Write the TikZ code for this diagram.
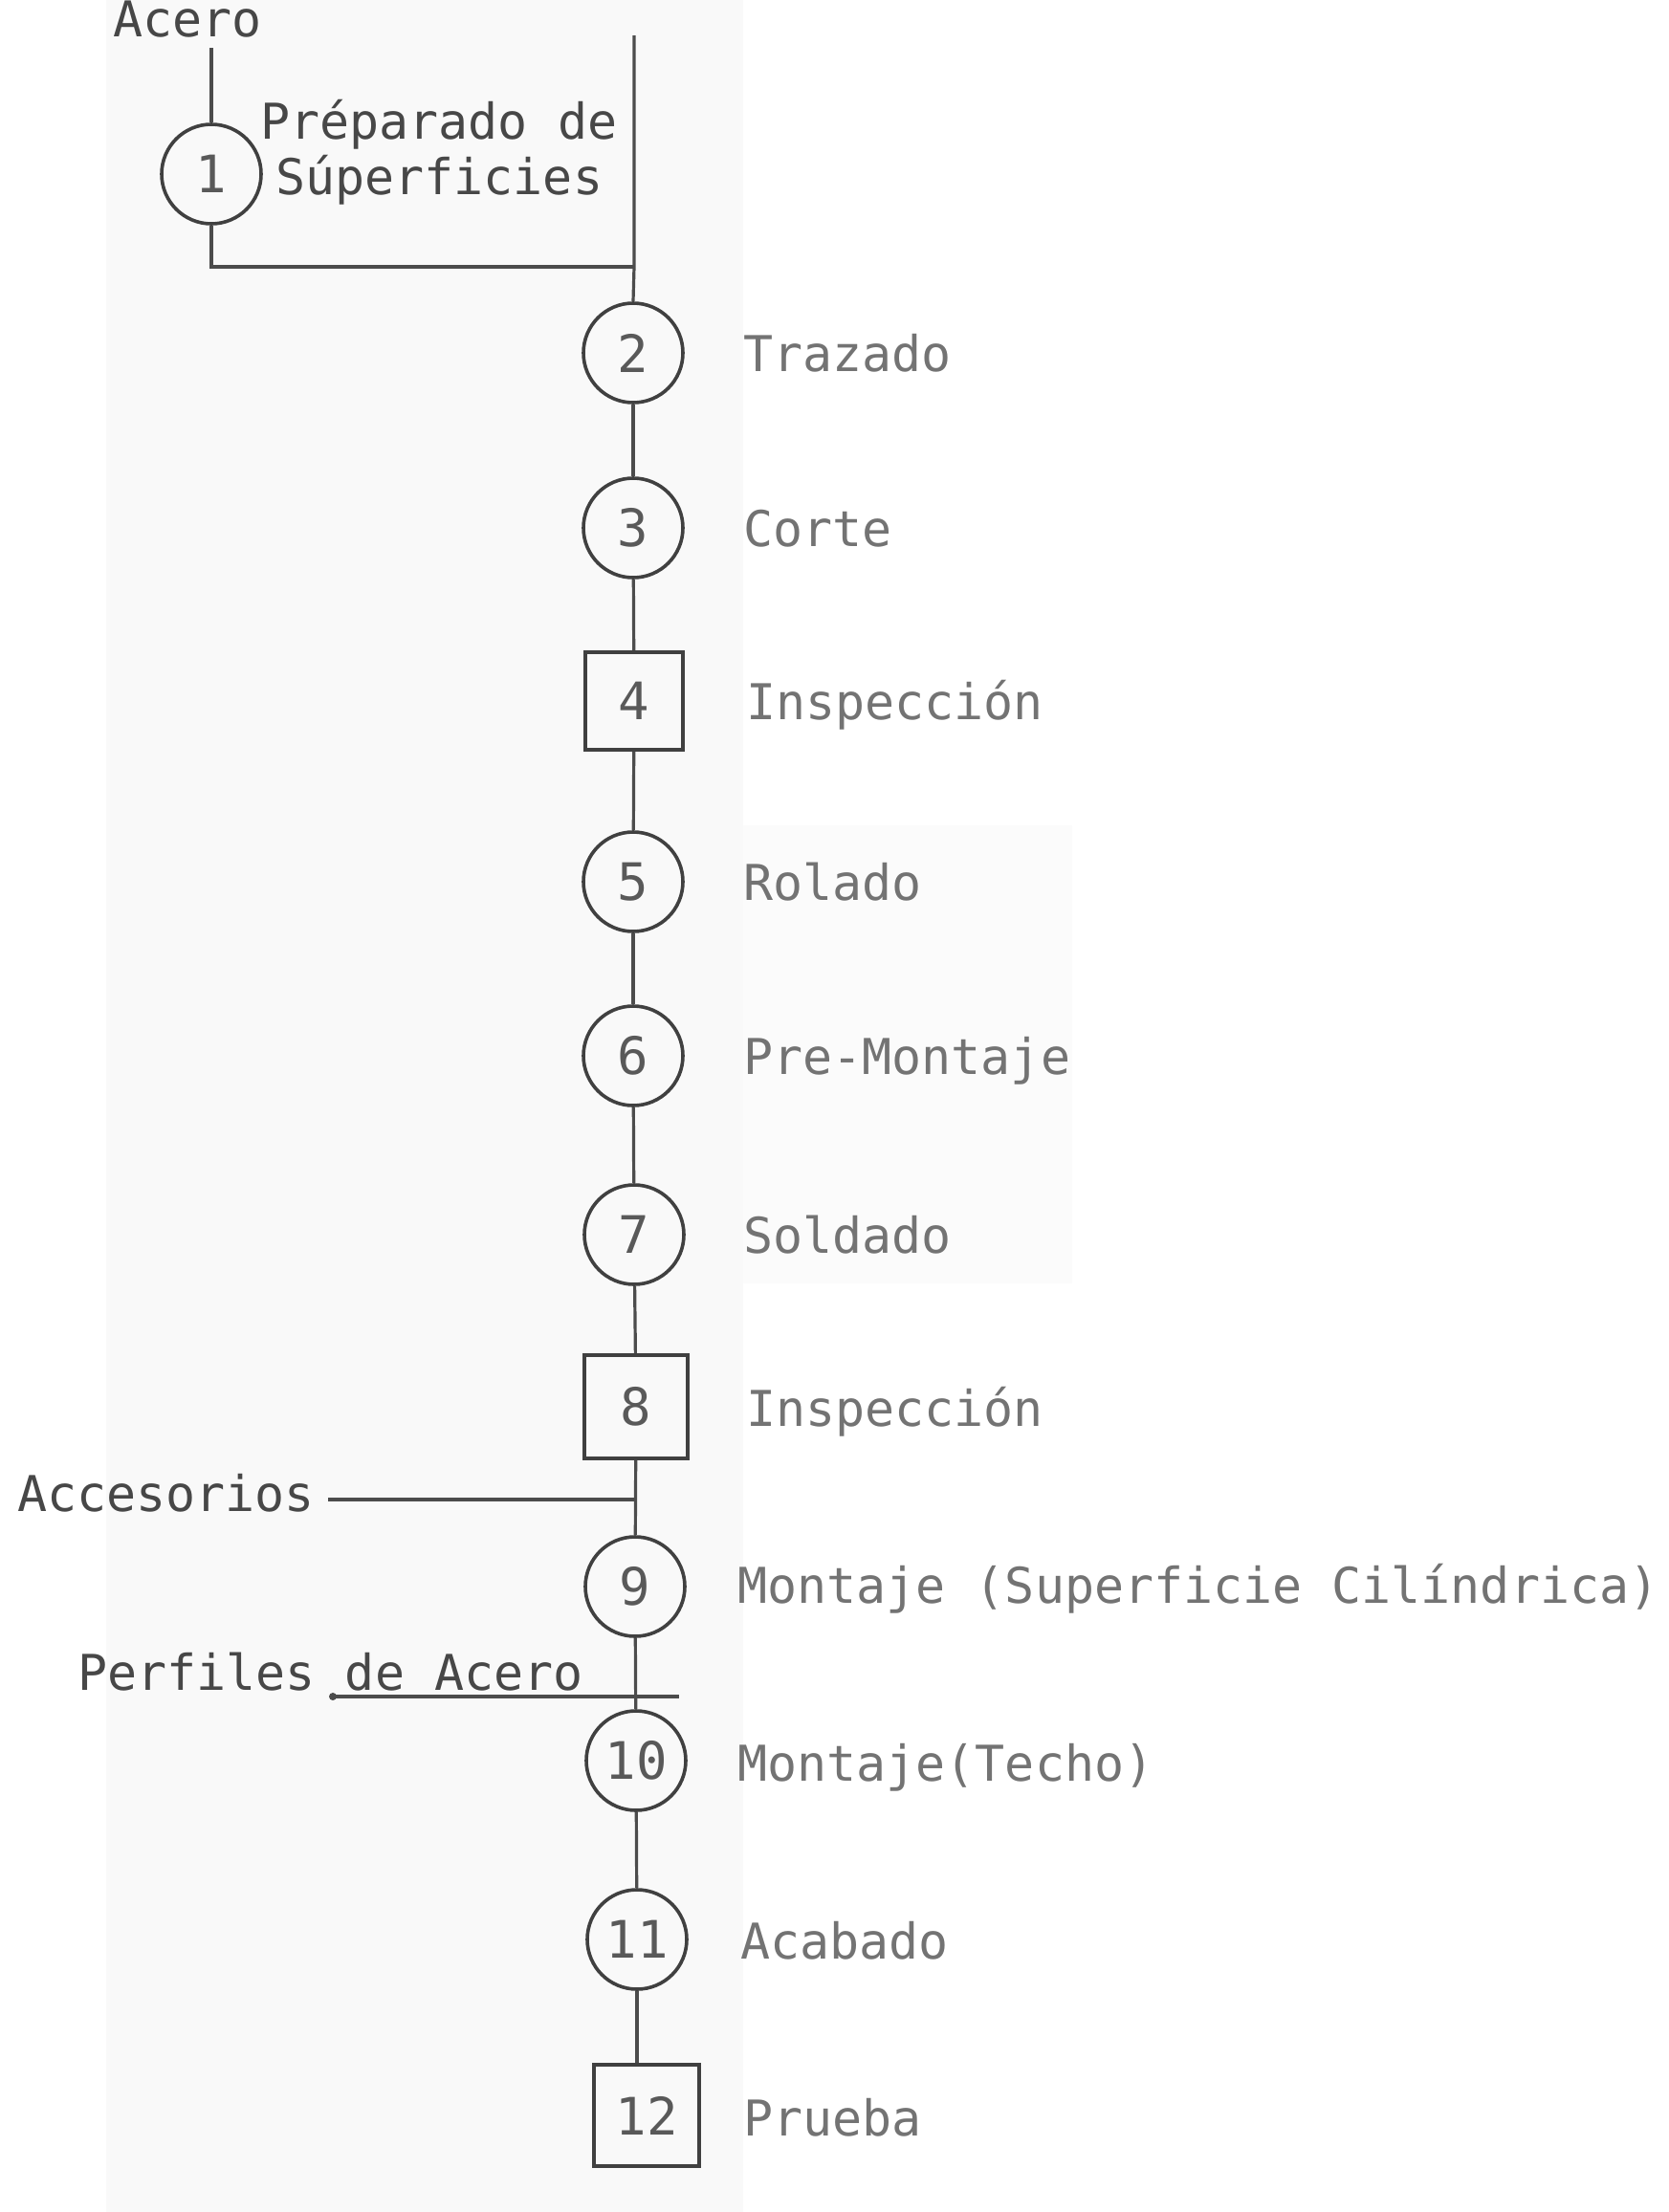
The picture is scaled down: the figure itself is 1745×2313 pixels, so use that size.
\documentclass[tikz,border=0pt]{standalone}
\usepackage{fontspec}
\newfontfamily\tw{DejaVu Sans Mono}
\begin{document}
\begin{tikzpicture}[x=0.5pt,y=-0.5pt,
  conn/.style={draw=black!70, line width=1.6pt},
  opcirc/.style={circle, draw=black!75, line width=1.8pt, minimum size=52pt, inner sep=0pt,
    font=\tw\fontsize{27}{30}\selectfont, text=black!65},
  inspbox/.style={rectangle, draw=black!75, line width=1.8pt, minimum width=51pt, minimum height=51pt,
    inner sep=0pt, font=\tw\fontsize{27}{30}\selectfont, text=black!65},
  lbl/.style={anchor=base west, inner sep=0pt, font=\tw\fontsize{25.8}{30}\selectfont, text=black!55},
  inlbl/.style={anchor=base west, inner sep=0pt, font=\tw\fontsize{25.8}{30}\selectfont, text=black!72}
]
\useasboundingbox (0,0) rectangle (1745,2313);
% scan background tint
\fill[black!2.5] (111,0) rectangle (777,2313);
\fill[black!1.5] (777,863) rectangle (1121,1342);

% operation symbols
\node[opcirc]  (c1)  at (221,182)  {1};
\node[opcirc]  (c2)  at (662,369)  {2};
\node[opcirc]  (c3)  at (662,552)  {3};
\node[inspbox] (c4)  at (663,733)  {4};
\node[opcirc]  (c5)  at (662,922)  {5};
\node[opcirc]  (c6)  at (662,1104) {6};
\node[opcirc]  (c7)  at (663,1291) {7};
\node[inspbox, minimum width=54pt, minimum height=54pt] (c8) at (665,1471) {8};
\node[opcirc]  (c9)  at (664,1659) {9};
\node[opcirc]  (c10) at (665,1841) {10};
\node[opcirc]  (c11) at (666,2028) {11};
\node[inspbox, minimum width=55pt, minimum height=53pt] (c12) at (676,2212) {12};

% labels
\node[lbl] (l2)  at (777,388)  {Trazado};
\node[lbl] (l3)  at (777,571)  {Corte};
\node[lbl] (l4)  at (780,752)  {Inspección};
\node[lbl] (l5)  at (777,941)  {Rolado};
\node[lbl] (l6)  at (777,1123) {Pre-Montaje};
\node[lbl] (l7)  at (777,1310) {Soldado};
\node[lbl] (l8)  at (780,1491) {Inspección};
\node[lbl] (l9)  at (771,1676) {Montaje (Superficie Cilíndrica)};
\node[lbl] (l10) at (771,1862) {Montaje(Techo)};
\node[lbl] (l11) at (774,2048) {Acabado};
\node[lbl] (l12) at (777,2233) {Prueba};

\node[inlbl] (acero) at (118,38) {Acero};
\node[inlbl] (prep1) at (272,145) {Préparado de};
\node[inlbl] (prep2) at (288,203) {Súperficies};
\node[inlbl] (acc)   at (18,1580) {Accesorios};
\node[inlbl] (perf)  at (81,1767) {Perfiles de Acero};

% connectors
\coordinate (a0) at (221,50);
\coordinate (r0) at (663,37);
\coordinate (j1) at (221,279);
\coordinate (j2) at (663,279);
\draw[conn] (a0) -- (c1.north);
\draw[conn] (c1.south) -- (j1) -- (j2);
\draw[conn] (r0) -- (j2) -- (c2.north);
\draw[conn] (c2) -- (c3);
\draw[conn] (c3) -- (c4);
\draw[conn] (c4) -- (c5);
\draw[conn] (c5) -- (c6);
\draw[conn] (c6) -- (c7);
\draw[conn] (c7) -- (c8);
\draw[conn] (c8) -- (c9);
\draw[conn] (c9) -- (c10);
\draw[conn] (c10) -- (c11);
\draw[conn] (c11.south) -- (c11.south |- c12.north);

\coordinate (accL) at (343,1568);
\draw[conn] (accL) -- (accL -| c8.south);
\coordinate (perL) at (348,1774);
\coordinate (perR) at (710,1774);
\draw[conn] (perL) -- (perR);
\fill[black!70] (perL) circle[radius=4];
\end{tikzpicture}
\end{document}
